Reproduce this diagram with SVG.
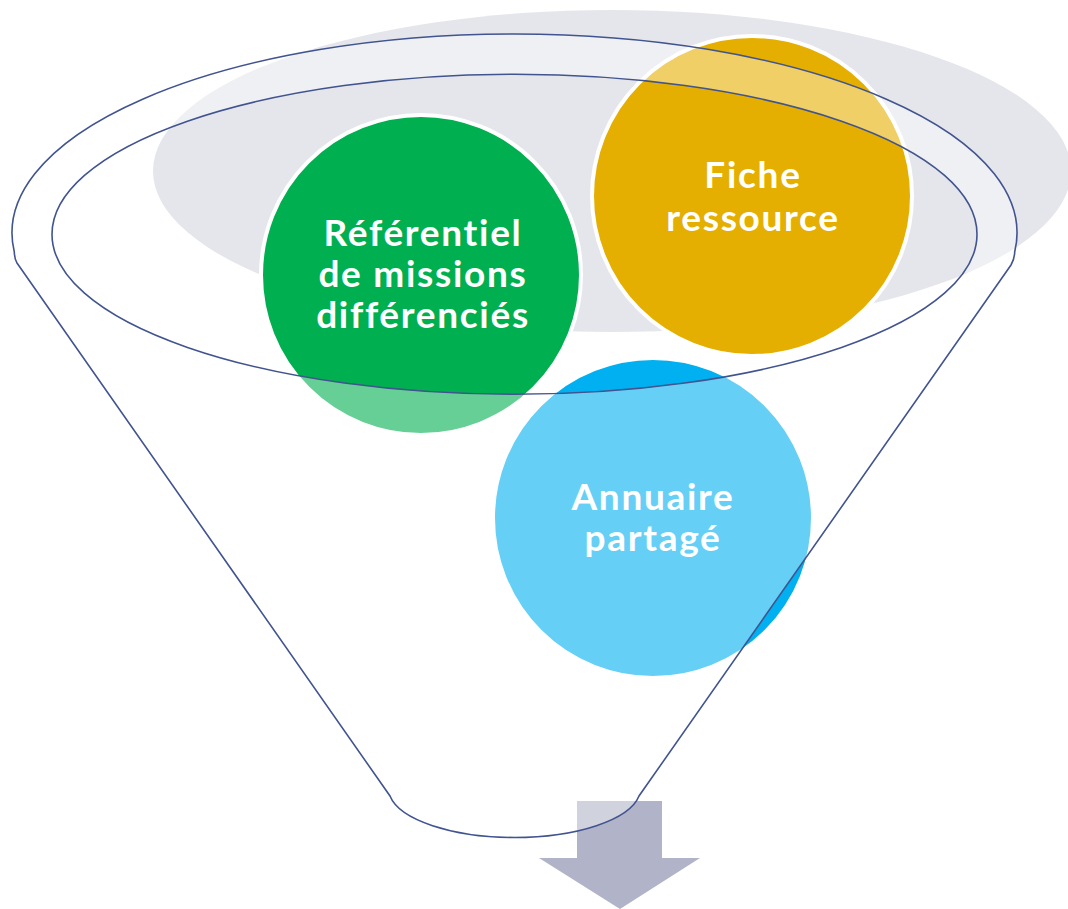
<svg xmlns="http://www.w3.org/2000/svg" width="1068" height="909" viewBox="0 0 1068 909">
<style>
.c{stroke:#ffffff;stroke-width:4}
.t{font-family:Lato,"Open Sans","Liberation Sans",sans-serif;font-weight:700;font-size:37px;letter-spacing:1.7px;fill:#ffffff;text-anchor:middle}
</style>
<rect width="1068" height="909" fill="#ffffff"/>
<ellipse id="bg" cx="612" cy="171" rx="459" ry="161" fill="#E5E6EC"/>
<g id="node-referentiel">
<circle class="c" cx="421" cy="275" r="160" fill="#00B050"/>
<text class="t" x="423" y="246">Référentiel</text>
<text class="t" x="423" y="287">de missions</text>
<text class="t" x="423" y="328">différenciés</text>
</g>
<g id="node-fiche">
<circle class="c" cx="752" cy="196" r="160" fill="#E4AF00"/>
<text class="t" x="753" y="188">Fiche</text>
<text class="t" x="753" y="231">ressource</text>
</g>
<g id="node-annuaire">
<circle class="c" cx="653" cy="518" r="160" fill="#00B0F0"/>
<text class="t" x="653" y="510">Annuaire</text>
<text class="t" x="653" y="551">partagé</text>
</g>
<g id="connectors">
<path id="arrow" d="M577 801 H662 V858 H700 L620 909 L539 858 H577 Z" fill="#B1B4C8"/>
</g>
<g id="funnel">
<path d="M14.3 252 A502.5 199 0 1 1 1014.7 252 Q1014.5 259 1011 265 L639 796 A126 49 0 0 1 390 796 L17 263 Q14.5 259 14.3 252 Z M52 234.3 A462.5 160 0 1 0 977 234.3 A462.5 160 0 1 0 52 234.3 Z" fill="#ffffff" fill-opacity="0.4" fill-rule="evenodd" stroke="#41548F" stroke-width="1.6"/>
</g>
</svg>
